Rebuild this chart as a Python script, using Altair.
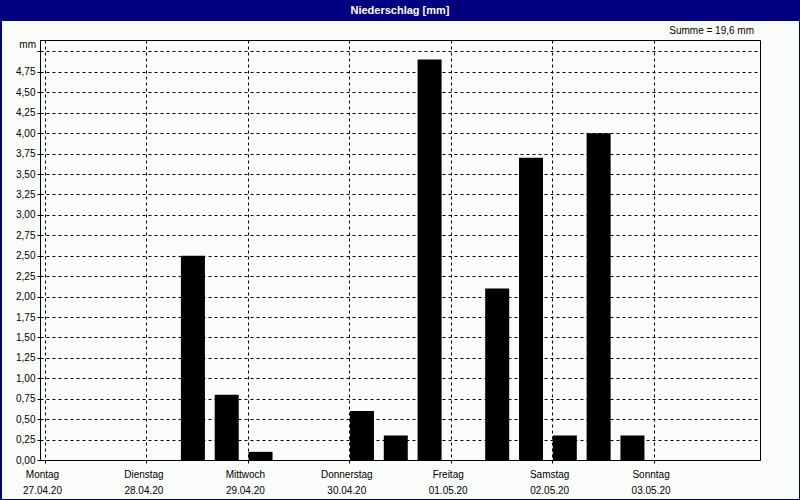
import altair as alt
import pandas as pd

# ---- data ----
bar_times = ["2020-04-28T11:00:00Z", "2020-04-28T19:00:00Z", "2020-04-29T03:00:00Z",
             "2020-04-30T03:00:00Z", "2020-04-30T11:00:00Z", "2020-04-30T19:00:00Z",
             "2020-05-01T11:00:00Z", "2020-05-01T19:00:00Z", "2020-05-02T03:00:00Z",
             "2020-05-02T11:00:00Z", "2020-05-02T19:00:00Z"]
bar_values = [2.5, 0.8, 0.1, 0.6, 0.3, 4.9, 2.1, 3.7, 0.3, 4.0, 0.3]
day_names = ["Montag", "Dienstag", "Mittwoch", "Donnerstag", "Freitag", "Samstag", "Sonntag"]
day_dates = ["27.04.20", "28.04.20", "29.04.20", "30.04.20", "01.05.20", "02.05.20", "03.05.20"]
y_ticks = [0.0, 0.25, 0.5, 0.75, 1.0, 1.25, 1.5, 1.75, 2.0, 2.25, 2.5, 2.75,
           3.0, 3.25, 3.5, 3.75, 4.0, 4.25, 4.5, 4.75, 5.0]
title_text = "Niederschlag [mm]"
unit_text = "mm"

total = sum(bar_values)
sum_text = "Summe = " + f"{total:.1f}".replace(".", ",") + " mm"

df = pd.DataFrame({"time": bar_times, "value": bar_values})
one = pd.DataFrame({"k": [0]})

FONT = "Liberation Sans"
NAVY = "#000080"
BG = "#FAFCFA"

t0 = int(pd.Timestamp("2020-04-27T00:00:00Z").timestamp() * 1000)
day_vals = [alt.DateTime(year=2020, month=4, date=27 + i, hours=0, utc=True) if 27 + i <= 30
            else alt.DateTime(year=2020, month=5, date=27 + i - 30, hours=0, utc=True)
            for i in range(7)]
names_js = "[" + ",".join("'" + n + "'" for n in day_names) + "]"
dates_js = "[" + ",".join("'" + d + "'" for d in day_dates) + "]"
idx = f"round((datum.value - {t0}) / 86400000)"
x_label_expr = f"[{names_js}[{idx}], {dates_js}[{idx}]]"

x_scale = alt.Scale(type="utc",
                    domain=[alt.DateTime(year=2020, month=4, date=27, hours=0, utc=True),
                            alt.DateTime(year=2020, month=5, date=4, hours=0, utc=True)])

bars = alt.Chart(df).mark_bar(color="black", size=24).encode(
    x=alt.X("time:T", scale=x_scale,
            axis=alt.Axis(values=day_vals, labelExpr=x_label_expr, title=None,
                          grid=True, gridDash=[3, 3], gridColor="black", gridOpacity=1,
                          tickColor="black", tickSize=3, domainColor="black",
                          labelFont=FONT, labelFontSize=10, labelColor="black",
                          labelBaseline="top", labelPadding=6, labelLineHeight=16,
                          labelAlign="center", labelOffset=-3,
                          labelFlush=False, labelOverlap=False)),
    y=alt.Y("value:Q", scale=alt.Scale(domain=[0, 5.14], nice=False, zero=True),
            axis=alt.Axis(values=y_ticks, title=None,
                          labelExpr="datum.value >= 5 ? '' : replace(format(datum.value, '.2f'), '.', ',')",
                          grid=True, gridDash=[3, 3], gridColor="black", gridOpacity=1,
                          tickColor="black", tickSize=3, domainColor="black",
                          labelFont=FONT, labelFontSize=10, labelColor="black",
                          labelPadding=2, labelOverlap=False)),
)

title_bar = alt.Chart(one).mark_rect(color=NAVY).encode(
    x=alt.value(-40), x2=alt.value(760), y=alt.value(-40), y2=alt.value(-19))
left_border = alt.Chart(one).mark_rect(color=NAVY).encode(
    x=alt.value(-40), x2=alt.value(-38), y=alt.value(-40), y2=alt.value(460))
right_border = alt.Chart(one).mark_rect(color=NAVY).encode(
    x=alt.value(759), x2=alt.value(760), y=alt.value(-40), y2=alt.value(460))
bottom_border = alt.Chart(one).mark_rect(color=NAVY).encode(
    x=alt.value(-40), x2=alt.value(760), y=alt.value(459), y2=alt.value(460))

title = alt.Chart(one).mark_text(text=title_text, color="white", font=FONT, fontSize=11,
                                 fontWeight="bold", align="center", baseline="middle").encode(
    x=alt.value(360), y=alt.value(-29.5))
summe = alt.Chart(one).mark_text(text=sum_text, color="black", font=FONT, fontSize=10,
                                 align="right", baseline="middle").encode(
    x=alt.value(714), y=alt.value(-9))
unit = alt.Chart(one).mark_text(text=unit_text, color="black", font=FONT, fontSize=10,
                                align="right", baseline="middle").encode(
    x=alt.value(-4), y=alt.value(5))

chart = alt.layer(bars, title_bar, left_border, right_border, bottom_border,
                  title, summe, unit).properties(
    width=720, height=420,
    autosize=alt.AutoSizeParams(type="none"),
    padding={"left": 40, "top": 40, "right": 40, "bottom": 40},
    background=BG,
).configure_view(stroke="black", strokeWidth=1)

chart.save("out.html", embed_options={"renderer": "svg", "actions": False})
